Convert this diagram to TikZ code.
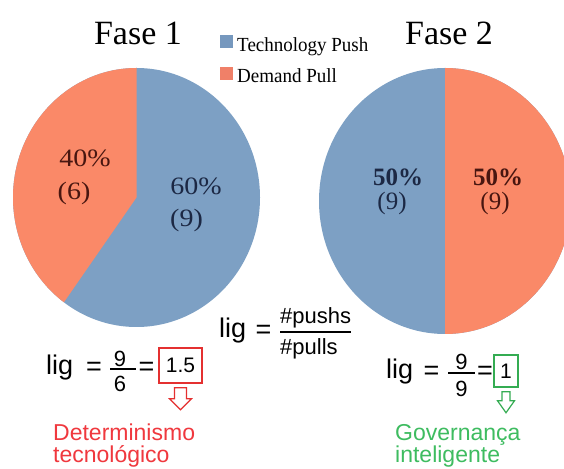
\documentclass[tikz,border=0pt]{standalone}
\usepackage{fontspec}
\setmainfont{Liberation Serif}
\newfontfamily\arial{Liberation Sans}
\definecolor{pieblue}{RGB}{125,160,196}
\definecolor{pieorange}{RGB}{250,137,104}
\definecolor{lgblue}{RGB}{118,152,190}
\definecolor{lgorange}{RGB}{240,128,104}
\definecolor{navytxt}{RGB}{28,40,68}
\definecolor{maroontxt}{RGB}{72,22,16}
\definecolor{alertred}{RGB}{240,56,62}
\definecolor{boxred}{RGB}{228,48,48}
\definecolor{okgreen}{RGB}{62,188,96}
\definecolor{boxgreen}{RGB}{52,172,82}
\tikzset{
  title/.style={anchor=base, inner sep=0pt, font=\fontsize{34}{40}\selectfont},
  legendtxt/.style={anchor=base west, inner sep=0pt, font=\fontsize{20}{24}\selectfont},
  legendbox/.style={minimum size=13pt, inner sep=0pt},
  pielbl/.style={inner sep=0pt, font=\fontsize{25}{30}\selectfont},
  eqtxt/.style={inner sep=0pt, font=\arial\fontsize{27}{30}\selectfont},
  fractxt/.style={inner sep=0pt, font=\arial\fontsize{22}{24}\selectfont},
  bigfrac/.style={inner sep=0pt, font=\arial\fontsize{22}{26}\selectfont},
  resultbox/.style={inner sep=0pt, line width=1.5pt, font=\arial\fontsize{21}{25}\selectfont},
  verdict/.style={anchor=base west, inner sep=0pt, font=\arial\fontsize{23}{25}\selectfont},
  fracbar/.style={line width=1.2pt},
  hollowarrow/.style={line width=1.2pt, line join=miter, fill=white}
}
\begin{document}
\begin{tikzpicture}[x=1pt,y=1pt]
\useasboundingbox (0,0) rectangle (564,468);
\fill[white] (0,0) rectangle (564,468);

% ---- titles and legend
\node[title] (t1) at (138,423) {Fase 1};
\node[title] (t2) at (449,423) {Fase 2};
\node[legendbox, fill=lgblue] (lb1) at (226.5,426.5) {};
\node[legendtxt] (lt1) at (237,416) {\scalebox{0.95}[1]{Technology Push}};
\node[legendbox, fill=lgorange] (lb2) at (226.5,394) {};
\node[legendtxt] (lt2) at (237,385) {\scalebox{0.95}[1]{Demand Pull}};

% ---- pie 1: 60% push, 40% pull
\coordinate (c1) at (136.5,270.5);
\fill[pieblue] (c1) ellipse [x radius=123.5, y radius=129.5];
\fill[pieorange] (c1) -- ++(0,129.5)
  arc[start angle=90, end angle=234, x radius=123.5, y radius=129.5] -- cycle;
\node[pielbl, text=maroontxt] (p1a) at (85,310) {\scalebox{1.12}[1]{40\%}};
\node[pielbl, text=maroontxt] (p1b) at (74,275) {\scalebox{1.12}[1]{(6)}};
\node[pielbl, text=navytxt] (p1c) at (196,282) {\scalebox{1.12}[1]{60\%}};
\node[pielbl, text=navytxt] (p1d) at (186.5,248) {\scalebox{1.12}[1]{(9)}};

% ---- pie 2: 50% push, 50% pull
\coordinate (c2) at (445,267);
\fill[pieblue] (c2) ellipse [x radius=126, y radius=133];
\fill[pieorange] (c2) -- ++(0,-133)
  arc[start angle=-90, end angle=90, x radius=126, y radius=133] -- cycle;
\node[pielbl, text=navytxt, font=\bfseries\fontsize{25}{30}\selectfont] (p2a) at (398,291) {50\%};
\node[pielbl, text=navytxt] (p2b) at (392,265) {(9)};
\node[pielbl, text=maroontxt, font=\bfseries\fontsize{25}{30}\selectfont] (p2c) at (498,291) {50\%};
\node[pielbl, text=maroontxt] (p2d) at (495,265) {(9)};

% ---- definition: lig = #pushs / #pulls
\node[eqtxt, anchor=base west] (m0) at (219,130) {lig};
\node[eqtxt] (m1) at (263.5,136) {=};
\coordinate (mb1) at (280,136);
\coordinate (mb2) at (351,136);
\draw[fracbar] (mb1) -- (mb2);
\node[bigfrac, anchor=west] (mn) at (280,150) {\#pushs};
\node[bigfrac, anchor=west] (md) at (280,119) {\#pulls};

% ---- fase 1 result
\node[eqtxt, anchor=base west] (l0) at (46,93) {lig};
\node[eqtxt] (l1) at (94,99) {=};
\coordinate (lb1a) at (110,99);
\coordinate (lb1b) at (136,99);
\draw[fracbar] (lb1a) -- (lb1b);
\node[fractxt] (ln) at (120,109) {9};
\node[fractxt] (ld) at (120,84) {6};
\node[eqtxt] (l2) at (146.5,99) {=};
\node[resultbox, draw=boxred, minimum width=43pt, minimum height=35pt] (r1) at (180.5,102.5) {1.5};
\draw[boxred, hollowarrow] ([shift={(-6,-4)}]r1.south) -- ++(0,-11) -- ++(-5,0)
  -- ([shift={(0,-26)}]r1.south) -- ([shift={(11,-15)}]r1.south)
  -- ([shift={(6,-15)}]r1.south) -- ([shift={(6,-4)}]r1.south) -- cycle;
\node[verdict, text=alertred] (v1a) at (53,28) {Determinismo};
\node[verdict, text=alertred] (v1b) at (53,6) {tecnológico};

% ---- fase 2 result
\node[eqtxt, anchor=base west] (g0) at (386,89) {lig};
\node[eqtxt] (g1) at (431.5,95) {=};
\coordinate (gb1a) at (448,95);
\coordinate (gb1b) at (475,95);
\draw[fracbar] (gb1a) -- (gb1b);
\node[fractxt] (gn) at (461.5,106) {9};
\node[fractxt] (gd) at (461.5,79) {9};
\node[eqtxt] (g2) at (485,95) {=};
\node[resultbox, draw=boxgreen, minimum width=24pt, minimum height=32pt] (r2) at (506,97) {1};
\draw[boxgreen, hollowarrow] ([shift={(-4,-4)}]r2.south) -- ++(0,-9) -- ++(-4.5,0)
  -- ([shift={(0,-25)}]r2.south) -- ([shift={(8.5,-13)}]r2.south)
  -- ([shift={(4,-13)}]r2.south) -- ([shift={(4,-4)}]r2.south) -- cycle;
\node[verdict, text=okgreen] (v2a) at (395,28) {Governança};
\node[verdict, text=okgreen] (v2b) at (395,6) {inteligente};
\end{tikzpicture}
\end{document}
